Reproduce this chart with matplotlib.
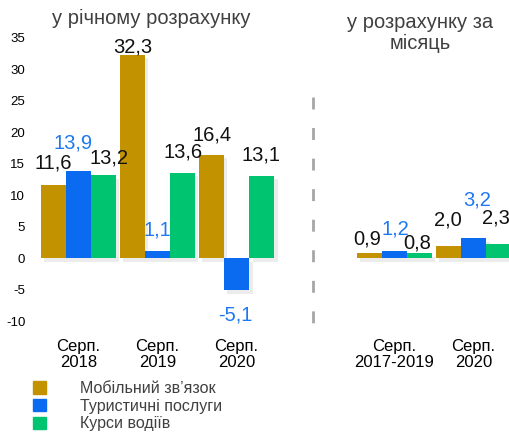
import matplotlib
matplotlib.use("Agg")
import matplotlib.pyplot as plt
import matplotlib.patheffects as pe
from matplotlib.lines import Line2D
import numpy as np

plt.rcParams['font.family'] = ['Liberation Sans', 'DejaVu Sans']

# ---- data ----
series_names = ["Мобільний зв\u02bcязок", "Туристичні послуги", "Курси водіїв"]
left_title = "у річному розрахунку"
right_title = "у розрахунку за\nмісяць"
left_categories = ["Серп.\n2018", "Серп.\n2019", "Серп.\n2020"]
right_categories = ["Серп.\n2017-2019", "Серп.\n2020"]

left_mobile = [11.6, 32.3, 16.4]
left_tourism = [13.9, 1.1, -5.1]
left_driving = [13.2, 13.6, 13.1]

right_mobile = [0.9, 2.0]
right_tourism = [1.2, 3.2]
right_driving = [0.8, 2.3]

y_ticks = [-10, -5, 0, 5, 10, 15, 20, 25, 30, 35]

# ---- style ----
colors = ["#C29200", "#0A6BF0", "#00C46F"]
label_colors = ["#111111", "#1E78F0", "#111111"]
W, H = 509, 432
fig = plt.figure(figsize=(W / 100, H / 100), dpi=100)

# label offsets in pixels (dx, dy) per series/category
left_offsets = [
    [(0, 22), (0, 8), (0.5, 20)],
    [(-5.5, 27.5), (0, 21), (-1.5, -25)],
    [(5.5, 17), (0.5, 21), (-0.5, 21)],
]
right_offsets = [
    [(-2.5, 13.5), (-0.5, 25.5)],
    [(0.5, 21.5), (3.5, 38)],
    [(-2, 10), (-2.5, 26)],
]

bw = 25 / 79
shadow = [pe.SimplePatchShadow(offset=(2.5, -2.5), shadow_rgbFace="#808080", alpha=0.15), pe.Normal()]


def fmt(v):
    return f"{v:.1f}".replace(".", ",")


def draw(ax, cats, vals_list, offsets):
    x = np.arange(len(cats))
    for i, vals in enumerate(vals_list):
        xs = x + (i - 1) * bw
        bars = ax.bar(xs, vals, width=bw, color=colors[i], zorder=2)
        for b in bars:
            b.set_path_effects(shadow)
        for j, v in enumerate(vals):
            dx, dy = offsets[i][j]
            ax.annotate(fmt(v), xy=(xs[j], v), xytext=(dx, dy),
                        textcoords="offset pixels", ha="center", va="center",
                        fontsize=14.5, color=label_colors[i])
    ax.set_xticks(x)
    ax.set_xticklabels(cats, fontsize=12, linespacing=1.05)
    ax.set_ylim(-10, 35)
    for s in ax.spines.values():
        s.set_visible(False)
    ax.tick_params(axis="both", length=0)
    ax.tick_params(axis="x", pad=13)


bottom = (432 - 321.3) / H
height = 283.5 / H

axL = fig.add_axes([35 / W, bottom, 245 / W, height])
draw(axL, left_categories, [left_mobile, left_tourism, left_driving], left_offsets)
axL.set_xlim(-0.55, 2.55)
axL.set_yticks(y_ticks)
axL.set_yticklabels([str(t) for t in y_ticks], fontsize=9.5)
axL.tick_params(axis="y", pad=7)

axR = fig.add_axes([351 / W, bottom, 166 / W, height])
draw(axR, right_categories, [right_mobile, right_tourism, right_driving], right_offsets)
axR.set_xlim(-0.55, 1.55)
axR.set_yticks([])

fig.text(151 / W, 1 - 18 / H, left_title, ha="center", va="center", fontsize=14.5, color="#404040")
fig.text(420 / W, 1 - 33 / H, right_title, ha="center", va="center", fontsize=14.5,
         color="#404040", linespacing=1.1)

fig.add_artist(Line2D([313 / W, 313 / W], [1 - 97 / H, 1 - 323 / H], transform=fig.transFigure,
                      color="#A6A6A6", lw=2, linestyle=(0, (4.3, 6.7))))

handles = [plt.Rectangle((0, 0), 1, 1, color=c) for c in colors]
leg = fig.legend(handles, series_names, loc="upper left", bbox_to_anchor=(33 / W, 1 - 381 / H),
                 frameon=False, fontsize=11.5, handlelength=0.82, handleheight=0.82,
                 handletextpad=2.1, labelspacing=0.17, borderaxespad=0, borderpad=0)
for t in leg.get_texts():
    t.set_color("#404040")

fig.savefig("out.png", dpi=100)
